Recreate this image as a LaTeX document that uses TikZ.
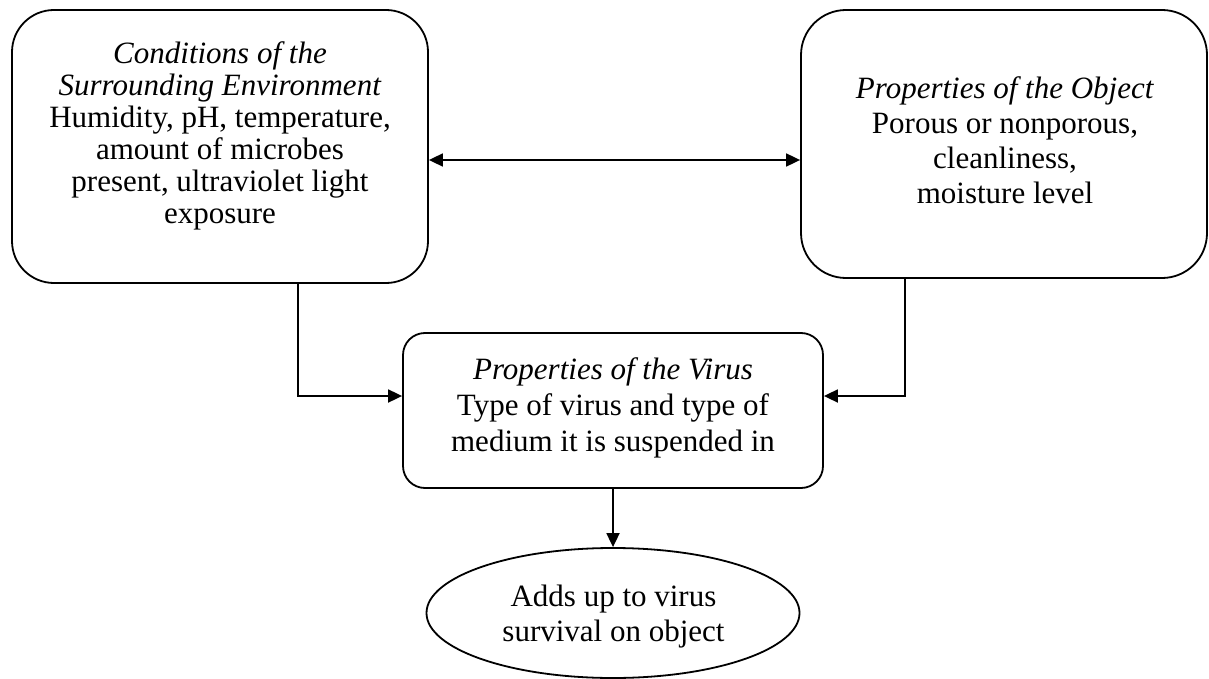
\documentclass[tikz,border=0pt]{standalone}
\usepackage{fontspec}
\setmainfont{Liberation Serif}
\usetikzlibrary{arrows.meta,shapes.geometric}
\begin{document}
\begin{tikzpicture}[x=1pt,y=-1pt,
  box/.style={draw,line width=1.8pt,rounded corners=#1,inner sep=0pt},
  oval/.style={draw,line width=1.8pt,ellipse,inner sep=0pt},
  txt/.style={align=center,inner sep=0pt,font=\fontsize{31}{#1}\selectfont},
  arr/.style={line width=1.8pt,-{Triangle[length=14pt,width=13pt]}},
  biarr/.style={line width=1.8pt,{Triangle[length=14pt,width=13pt]}-{Triangle[length=14pt,width=13pt]}}]
\useasboundingbox (0,0) rectangle (1209,679);
% boxes
\node[box=42pt,minimum width=416pt,minimum height=273pt] (env) at (220,146.5) {};
\node[box=45pt,minimum width=406pt,minimum height=268pt] (obj) at (1004,144) {};
\node[box=22pt,minimum width=420pt,minimum height=155pt] (virus) at (613,410.5) {};
\node[oval,minimum width=373pt,minimum height=130pt] (sum) at (613,613) {};
% texts
\node[txt=32] (envtext) at (220,136) {\textit{Conditions of the}\\\textit{Surrounding Environment}\\Humidity, pH, temperature,\\amount of microbes\\present, ultraviolet light\\exposure};
\node[txt=35] (objtext) at (1005,140) {\textit{Properties of the Object}\\Porous or nonporous,\\cleanliness,\\moisture level};
\node[txt=36] (virustext) at (613,407.5) {\textit{Properties of the Virus}\\Type of virus and type of\\medium it is suspended in};
\node[txt=35] (sumtext) at (613.5,617) {Adds up to virus\\survival on object};
% connectors
\draw[biarr] ([yshift=-13.5pt]env.east) -- ([yshift=-16pt]obj.west);
\draw[arr] ([xshift=78pt]env.south) |- ([yshift=14.5pt]virus.west);
\draw[arr] ([xshift=-99pt]obj.south) |- ([yshift=14.5pt]virus.east);
\draw[arr] (virus.south) -- (sum.north);
\end{tikzpicture}
\end{document}
